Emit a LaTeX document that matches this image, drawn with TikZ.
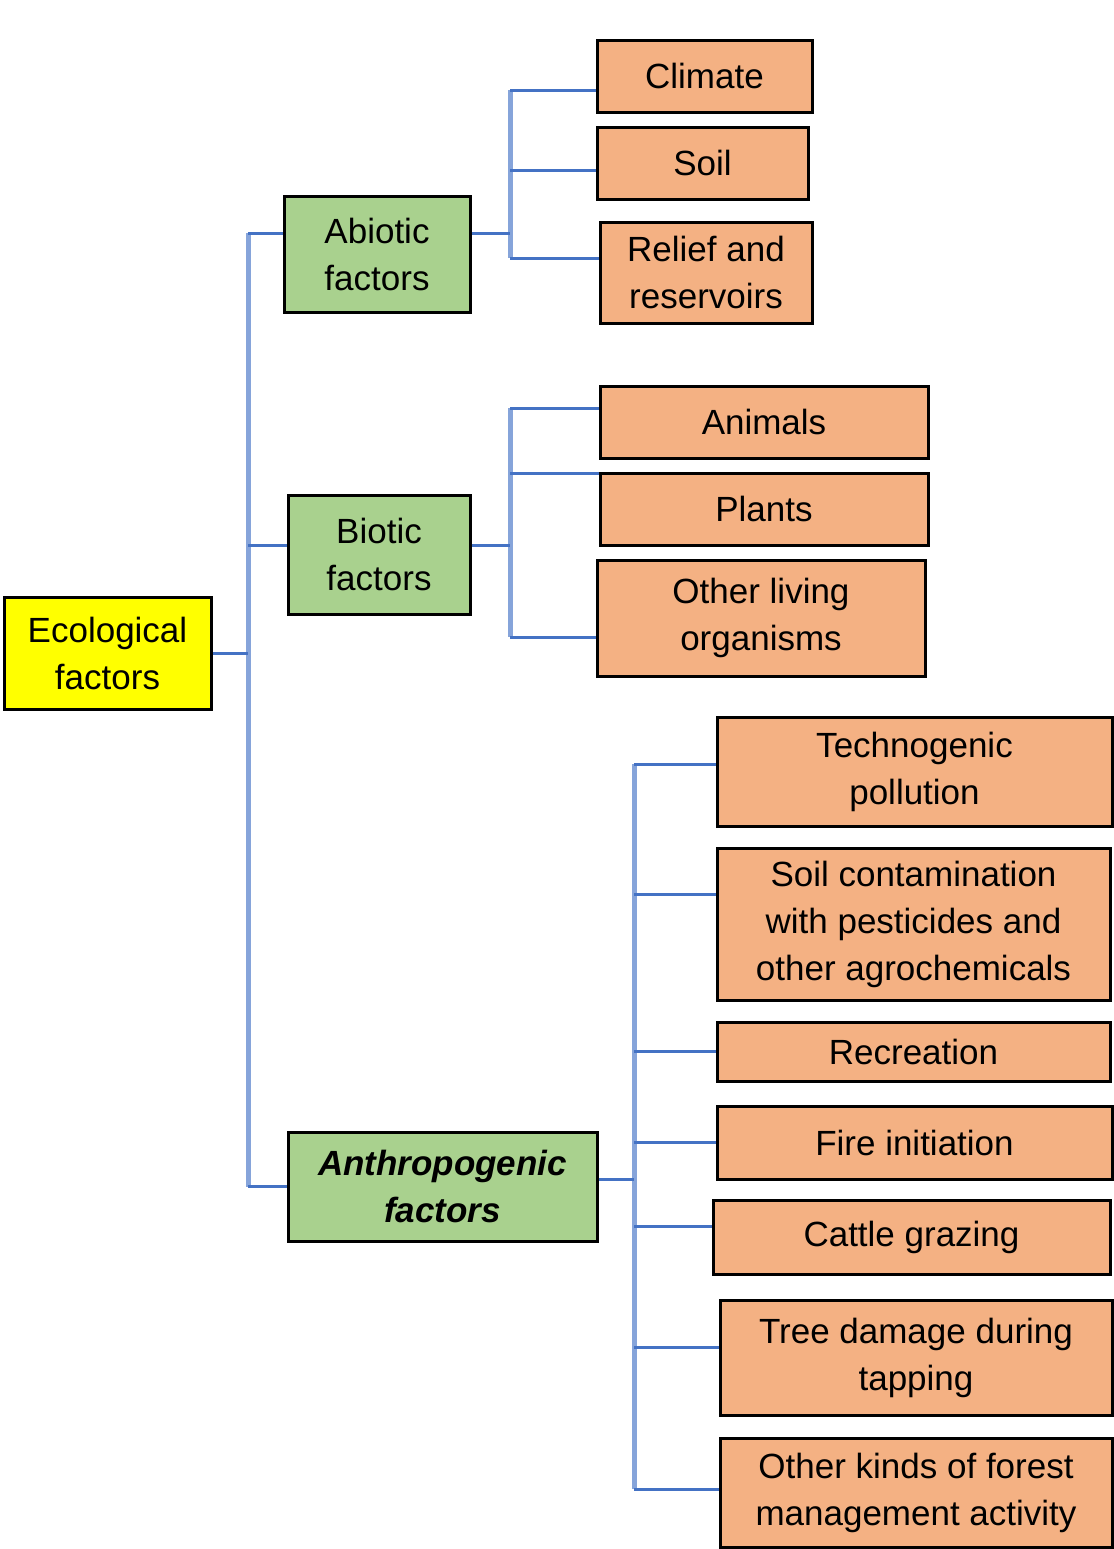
\documentclass[tikz,border=0pt]{standalone}
\usepackage{fontspec}
\setmainfont{Liberation Sans}
\usepackage{xcolor}
\usepackage{tikz}
\usetikzlibrary{calc}
\definecolor{leafcol}{HTML}{F4B183}
\definecolor{groupcol}{HTML}{A9D18E}
\definecolor{rootcol}{HTML}{FFFF00}
\definecolor{linkcol}{HTML}{4472C4}
\definecolor{buscol}{HTML}{86A4DA}

\begin{document}
\begin{tikzpicture}[x=0.5pt, y=-0.5pt,
	every node/.style={draw=black, line width=1.5pt, rectangle, align=center, inner sep=0pt,
		font=\fontsize{17.5}{23.5}\selectfont},
	leaf/.style={fill=leafcol},
	group/.style={fill=groupcol},
	link/.style={draw=linkcol, line width=1.5pt},
	bus/.style={draw=buscol, line width=2.5pt}]
	\useasboundingbox (0,0) rectangle (1114,1549);
	\node[fill=rootcol, minimum width=103.5pt, minimum height=56pt] (eco) at (107.5,653) {Ecological\\factors};
	\node[group, minimum width=93pt, minimum height=58pt] (abio) at (377,254) {Abiotic\\factors};
	\node[group, minimum width=91pt, minimum height=59.5pt] (bio) at (379,554.5) {Biotic\\factors};
	\node[group, minimum width=154.5pt, minimum height=54.5pt, font=\fontsize{17.5}{23.5}\selectfont\bfseries\itshape] (anthro) at (442.5,1186.5) {Anthropogenic\\factors};
	\node[leaf, minimum width=107.5pt, minimum height=36pt] (clim) at (704.5,76) {Climate};
	\node[leaf, minimum width=105.5pt, minimum height=36pt] (soil) at (702.5,163) {Soil};
	\node[leaf, minimum width=106pt, minimum height=50.5pt] (relief) at (706,272.5) {Relief and\\reservoirs};
	\node[leaf, minimum width=164pt, minimum height=36pt] (anim) at (764,422) {Animals};
	\node[leaf, minimum width=164pt, minimum height=36pt] (plant) at (764,509) {Plants};
	\node[leaf, minimum width=164pt, minimum height=58pt] (other) at (761,618) {Other living\\organisms};
	\node[leaf, minimum width=197.5pt, minimum height=54.5pt] (techno) at (914.5,771.5) {Technogenic\\pollution};
	\node[leaf, minimum width=196.5pt, minimum height=76pt] (soilc) at (913.5,924) {Soil contamination\\with pesticides and\\other agrochemicals};
	\node[leaf, minimum width=196.5pt, minimum height=29.5pt] (recr) at (913.5,1051.5) {Recreation};
	\node[leaf, minimum width=197.5pt, minimum height=36.5pt] (fire) at (914.5,1142.5) {Fire initiation};
	\node[leaf, minimum width=198.5pt, minimum height=37pt] (cattle) at (911.5,1237) {Cattle grazing};
	\node[leaf, minimum width=196pt, minimum height=57.5pt] (tree) at (916,1357.5) {Tree damage during\\tapping};
	\node[leaf, minimum width=196pt, minimum height=54.5pt] (otherk) at (916,1492.5) {Other kinds of forest\\management activity};

	\coordinate (ebus) at (248,653);
	\coordinate (abus) at (510,233);
	\coordinate (bbus) at (510,545);
	\coordinate (tbus) at (634,1179);

	\draw[bus] ([yshift=10.5pt]abio.west -| ebus) -- (anthro.west -| ebus);
	\draw[bus] ([yshift=-7pt]clim.west -| abus) -- ([yshift=7.25pt]relief.west -| abus);
	\draw[bus] ([yshift=7pt]anim.west -| bbus) -- ([yshift=-9.5pt]other.west -| bbus);
	\draw[bus] ([yshift=3.75pt]techno.west -| tbus) -- ([yshift=1.75pt]otherk.west -| tbus);

	\draw[link] (eco.east) -- (ebus);
	\draw[link] ([yshift=10.5pt]abio.east) -- (abus);
	\draw[link] ([yshift=4.75pt]bio.east) -- (bbus);
	\draw[link] ([yshift=3.75pt]anthro.east) -- (tbus);

	\foreach \n/\s in {abio/10.5, bio/4.75, anthro/0}
		\draw[link] ([yshift=\s pt]\n.west -| ebus) -- ([yshift=\s pt]\n.west);
	\foreach \n/\s in {clim/-7, soil/-3.5, relief/7.25}
		\draw[link] ([yshift=\s pt]\n.west -| abus) -- ([yshift=\s pt]\n.west);
	\foreach \n/\s in {anim/7, plant/18, other/-9.5}
		\draw[link] ([yshift=\s pt]\n.west -| bbus) -- ([yshift=\s pt]\n.west);
	\foreach \n/\s in {techno/3.75, soilc/15, recr/0, fire/0, cattle/5.5, tree/5.25, otherk/1.75}
		\draw[link] ([yshift=\s pt]\n.west -| tbus) -- ([yshift=\s pt]\n.west);
\end{tikzpicture}
\end{document}
